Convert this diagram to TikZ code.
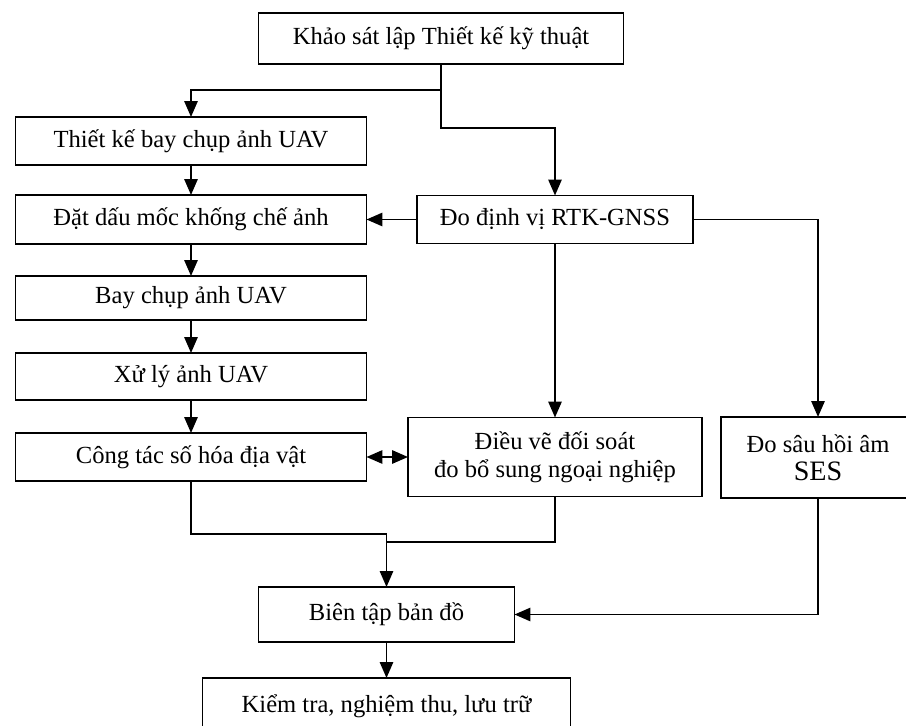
\documentclass[tikz,border=0pt]{standalone}
\usepackage{fontspec}
\setmainfont{Liberation Serif}
\usepackage{tikz}
\usetikzlibrary{arrows.meta}

\begin{document}
\begin{tikzpicture}[x=0.02cm, y=-0.02cm,
		box/.style={draw, line width=0.9pt, inner sep=0pt, outer sep=0pt, align=center, font=\fontsize{14}{16}\selectfont},
		arr/.style={line width=1.1pt, -{Triangle[length=9pt,width=7.5pt]}},
		arrtwo/.style={line width=1.1pt, {Triangle[length=9pt,width=7.5pt]}-{Triangle[length=9pt,width=7.5pt]}}]
			\useasboundingbox (0,0) rectangle (906,726);

			\node[box, minimum width=7.3cm, minimum height=1.02cm] (khaosat) at (441,38.5) {Khảo sát lập Thiết kế kỹ thuật};
			\node[box, minimum width=7.02cm, minimum height=0.96cm] (thietke) at (191,141) {Thiết kế bay chụp ảnh UAV};
			\node[box, minimum width=7.02cm, minimum height=0.98cm] (datdau) at (191,219.5) {Đặt dấu mốc khống chế ảnh};
			\node[box, minimum width=5.52cm, minimum height=0.96cm] (rtk) at (555,219.5) {Đo định vị RTK-GNSS};
			\node[box, minimum width=7.02cm, minimum height=0.88cm] (baychup) at (191,298) {Bay chụp ảnh UAV};
			\node[box, minimum width=7.02cm, minimum height=0.94cm] (xuly) at (191,376.5) {Xử lý ảnh UAV};
			\node[box, minimum width=7.02cm, minimum height=0.96cm] (congtac) at (191,457) {Công tác số hóa địa vật};
			\node[box, minimum width=5.88cm, minimum height=1.58cm] (dieuve) at (555,457) {Điều vẽ đối soát\\đo bổ sung ngoại nghiệp};
			\node[box, minimum width=3.88cm, minimum height=1.62cm] (ses) at (818,457.5) {Đo sâu hồi âm\\{\fontsize{16}{18}\selectfont SES}};
			\node[box, minimum width=5.12cm, minimum height=1.1cm] (bientap) at (386.5,614.5) {Biên tập bản đồ};
			\node[box, minimum width=7.36cm, minimum height=1.12cm] (kiemtra) at (386.5,706) {Kiểm tra, nghiệm thu, lưu trữ};

			\coordinate (join) at (386.5,542);

			\draw[arr] (khaosat.south) -- ++(0,26) -| (thietke.north);
			\draw[arr] (khaosat.south) -- ++(0,64) -| (rtk.north);
			\draw[arr] (thietke) -- (datdau);
			\draw[arr] (rtk) -- (datdau);
			\draw[arr] (rtk.east) -| (ses.north);
			\draw[arr] (rtk) -- (dieuve);
			\draw[arr] (datdau) -- (baychup);
			\draw[arr] (baychup) -- (xuly);
			\draw[arr] (xuly) -- (congtac);
			\draw[arrtwo] (congtac) -- (dieuve);
			\draw[arr] (congtac.south) -- ++(0,53) -| (bientap.north);
			\draw[line width=1.1pt] (dieuve.south) |- (join);
			\draw[arr] (ses.south) |- (bientap.east);
			\draw[arr] (bientap) -- (kiemtra);

		\end{tikzpicture}
\end{document}
